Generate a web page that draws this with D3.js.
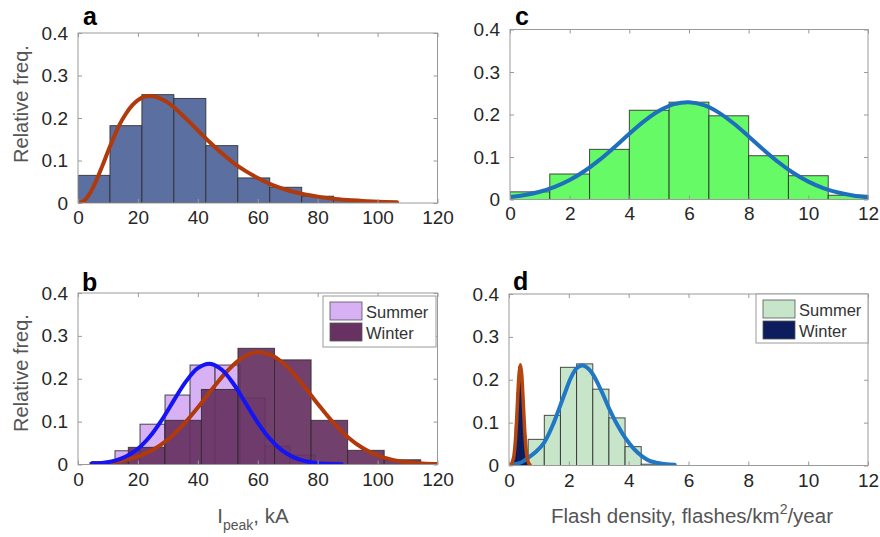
<!DOCTYPE html>
<html>
<head>
<meta charset="utf-8">
<script src="https://cdn.jsdelivr.net/npm/d3@7/dist/d3.min.js"></script>
<style>
  html, body { margin: 0; padding: 0; background: #fff; }
  svg { display: block; font-family: "Liberation Sans", Arial, Helvetica, sans-serif; }
</style>
</head>
<body>
<svg id="fig" width="880" height="537"></svg>
<script>
// Axis ticks
const freqTicks = [0, 0.1, 0.2, 0.3, 0.4];
const ipeakTicks = [0, 20, 40, 60, 80, 100, 120];
const densityTicks = [0, 2, 4, 6, 8, 10, 12];

// (a) Peak current, all flashes
const aEdges = [0, 10.67, 21.33, 32, 42.67, 53.33, 64, 74.67, 85.33, 96, 106.67];
const aFreq = [0.065, 0.182, 0.255, 0.246, 0.135, 0.059, 0.037, 0.016, 0.007, 0.003];
const aFitX = [0, 2, 4, 6, 8, 10, 12, 14, 16, 18, 20, 22, 24, 26, 28, 30, 33, 36, 40, 44, 48, 52, 56, 60, 65, 70, 75, 80, 85, 90, 95, 100, 106.5];
const aFitY = [0, 0.005, 0.023, 0.051, 0.085, 0.121, 0.155, 0.186, 0.210, 0.229, 0.242, 0.250, 0.252, 0.250, 0.244, 0.236, 0.219, 0.199, 0.171, 0.143, 0.117, 0.094, 0.075, 0.059, 0.042, 0.030, 0.021, 0.015, 0.010, 0.007, 0.005, 0.003, 0.002];

// (b) Peak current, summer vs winter
const bSummerEdges = [4, 12.35, 20.7, 29.05, 37.4, 45.75, 54.1, 62.45, 70.8, 79.15, 87.5];
const bSummerFreq = [0.005, 0.032, 0.094, 0.162, 0.232, 0.232, 0.155, 0.043, 0.022, 0.006];
const bWinterEdges = [4.6, 16.8, 29, 41.2, 53.4, 65.6, 77.8, 90, 102.2, 114.4, 126.6];
const bWinterFreq = [0.007, 0.040, 0.103, 0.175, 0.271, 0.244, 0.103, 0.033, 0.011, 0.003];
const bSummerFitX = [4.6, 8, 12, 16, 20, 24, 28, 32, 36, 40, 44, 48, 52, 56, 60, 64, 68, 72, 76, 80, 84, 88];
const bSummerFitY = [0.0015, 0.0035, 0.0085, 0.0186, 0.0367, 0.0652, 0.1041, 0.1495, 0.1932, 0.2246, 0.235, 0.2211, 0.1872, 0.1425, 0.0977, 0.0602, 0.0334, 0.0167, 0.0075, 0.0030, 0.0011, 0.0004];
const bWinterFitX = [4.6, 10, 15, 20, 25, 30, 35, 40, 45, 50, 55, 60, 65, 70, 75, 80, 85, 90, 95, 100, 105, 110, 115, 120];
const bWinterFitY = [0.0017, 0.0043, 0.0093, 0.0186, 0.0343, 0.0584, 0.0917, 0.1329, 0.1778, 0.2193, 0.2495, 0.262, 0.2536, 0.2265, 0.1866, 0.1418, 0.0994, 0.0643, 0.0384, 0.0211, 0.0107, 0.0050, 0.0022, 0.0009];

// (c) Flash density, all seasons
const cEdges = [0, 1.333, 2.667, 4, 5.333, 6.667, 8, 9.333, 10.667, 12];
const cFreq = [0.018, 0.060, 0.118, 0.210, 0.229, 0.197, 0.103, 0.056, 0.010];
const cFitX = [0, 0.5, 1, 1.5, 2, 2.5, 3, 3.5, 4, 4.5, 5, 5.5, 6, 6.5, 7, 7.5, 8, 8.5, 9, 9.5, 10, 10.5, 11, 11.5, 12];
const cFitY = [0.0059, 0.0107, 0.0182, 0.0296, 0.0457, 0.0670, 0.0932, 0.1232, 0.1546, 0.1843, 0.2086, 0.2243, 0.229, 0.2219, 0.2044, 0.1787, 0.1484, 0.1170, 0.0876, 0.0623, 0.0421, 0.0270, 0.0164, 0.0095, 0.0052];

// (d) Flash density, summer vs winter
const dSummerEdges = [0.10, 0.64, 1.18, 1.72, 2.26, 2.80, 3.34, 3.88, 4.42, 4.96, 5.50];
const dSummerFreq = [0.012, 0.061, 0.117, 0.229, 0.237, 0.178, 0.111, 0.044, 0.003, 0.001];
const dWinterEdges = [0.15, 0.209, 0.268, 0.327, 0.386, 0.445, 0.504, 0.563, 0.622, 0.681];
const dWinterFreq = [0.03, 0.09, 0.17, 0.23, 0.22, 0.15, 0.07, 0.025, 0.006];
const dSummerFitX = [0.11, 0.4, 0.64, 0.9, 1.17, 1.45, 1.71, 1.9, 2.07, 2.25, 2.43, 2.6, 2.8, 3.08, 3.36, 3.62, 3.88, 4.16, 4.44, 4.7, 4.98, 5.25, 5.54];
const dSummerFitY = [0.002, 0.007, 0.018, 0.032, 0.053, 0.092, 0.139, 0.175, 0.205, 0.226, 0.233, 0.229, 0.213, 0.175, 0.131, 0.095, 0.065, 0.040, 0.022, 0.011, 0.006, 0.003, 0.002];
const dWinterFitX = [0.08, 0.15, 0.2, 0.25, 0.3, 0.34, 0.38, 0.42, 0.46, 0.51, 0.56, 0.61, 0.66, 0.70];
const dWinterFitY = [0.002, 0.017, 0.046, 0.100, 0.171, 0.216, 0.235, 0.216, 0.171, 0.101, 0.046, 0.017, 0.005, 0.002];

const legendLabels = ["Summer", "Winter"];

const svg = d3.select("#fig");
svg.append("rect").attr("width", 880).attr("height", 537).attr("fill", "#fff");

const BOX = "#9a9a9a";

function zipBins(edges, freq) {
  return freq.map((f, i) => ({ x0: edges[i], x1: edges[i + 1], f }));
}
function zipPts(xs, ys) { return xs.map((x, i) => [x, ys[i]]); }

function panel(opt) {
  const g = svg.append("g");
  const x = d3.scaleLinear().domain(opt.xDomain).range([opt.left, opt.right]);
  const y = d3.scaleLinear().domain([0, 0.4]).range([opt.bottom, opt.top]);

  const clipId = "clip-" + opt.letter;
  svg.append("clipPath").attr("id", clipId)
    .append("rect").attr("x", opt.left).attr("y", opt.top)
    .attr("width", opt.right - opt.left).attr("height", opt.bottom - opt.top);

  const plot = g.append("g").attr("clip-path", `url(#${clipId})`);

  opt.layers.forEach(layer => {
    if (layer.type === "bars") {
      plot.append("g").selectAll("rect").data(layer.bins).join("rect")
        .attr("x", d => x(d.x0))
        .attr("y", d => y(d.f))
        .attr("width", d => x(d.x1) - x(d.x0))
        .attr("height", d => y(0) - y(d.f))
        .attr("fill", layer.fill)
        .attr("fill-opacity", layer.opacity == null ? 1 : layer.opacity)
        .attr("stroke", layer.stroke || "#2b2b2b")
        .attr("stroke-opacity", 0.85)
        .attr("stroke-width", 1);
    } else {
      plot.append("path").datum(layer.pts)
        .attr("fill", "none")
        .attr("stroke", layer.color)
        .attr("stroke-width", layer.width || 4)
        .attr("stroke-linejoin", "round")
        .attr("stroke-linecap", "round")
        .attr("d", d3.line().x(d => x(d[0])).y(d => y(d[1])).curve(d3.curveCatmullRom));
    }
  });

  // frame
  g.append("rect")
    .attr("x", opt.left).attr("y", opt.top)
    .attr("width", opt.right - opt.left).attr("height", opt.bottom - opt.top)
    .attr("fill", "none").attr("stroke", BOX).attr("stroke-width", 1);

  // inward ticks on all four sides
  const tl = 4;
  const axB = d3.axisBottom(x).tickValues(opt.xTicks).tickSize(tl).tickFormat(d3.format("d"));
  const xt = g.append("g").attr("transform", `translate(0,${opt.bottom})`).call(axB);
  xt.select(".domain").remove();
  xt.selectAll(".tick line").attr("y2", -tl).attr("stroke", BOX);
  xt.selectAll(".tick text").attr("y", opt.xLabelDy).attr("dy", 0)
    .attr("font-size", 19).attr("fill", "#262626").attr("font-family", null);
  xt.attr("font-family", null);

  const topTicks = g.append("g").attr("transform", `translate(0,${opt.top})`)
    .call(d3.axisTop(x).tickValues(opt.xTicks).tickSize(tl).tickFormat(""));
  topTicks.select(".domain").remove();
  topTicks.selectAll(".tick line").attr("y2", tl).attr("stroke", BOX);

  const axL = d3.axisLeft(y).tickValues(freqTicks).tickSize(tl).tickPadding(6)
    .tickFormat(d => d === 0 ? "0" : d3.format(".1f")(d));
  const yt = g.append("g").attr("transform", `translate(${opt.left},0)`).call(axL);
  yt.select(".domain").remove();
  yt.selectAll(".tick line").attr("x2", tl).attr("stroke", BOX);
  yt.selectAll(".tick text").attr("font-size", 19).attr("fill", "#262626").attr("font-family", null);
  yt.attr("font-family", null);

  const rightTicks = g.append("g").attr("transform", `translate(${opt.right},0)`)
    .call(d3.axisRight(y).tickValues(freqTicks).tickSize(tl).tickFormat(""));
  rightTicks.select(".domain").remove();
  rightTicks.selectAll(".tick line").attr("x2", -tl).attr("stroke", BOX);

  // panel letter
  g.append("text").attr("x", opt.letterX).attr("y", opt.letterY)
    .attr("font-size", 25).attr("font-weight", "bold").attr("fill", "#000")
    .text(opt.letter);

  // legend
  if (opt.legend) {
    const L = opt.legend;
    g.append("rect").attr("x", L.x).attr("y", L.y).attr("width", L.w).attr("height", L.h)
      .attr("fill", "#fff").attr("stroke", BOX).attr("stroke-width", 1);
    legendLabels.forEach((lab, i) => {
      g.append("rect")
        .attr("x", L.x + 7).attr("y", L.y + 6 + i * 21)
        .attr("width", 32).attr("height", 18)
        .attr("fill", L.colors[i]).attr("stroke", "#555").attr("stroke-width", 0.8);
      g.append("text")
        .attr("x", L.x + 43).attr("y", L.y + 22 + i * 21)
        .attr("font-size", 16.5).attr("fill", "#333").text(lab);
    });
  }
  return g;
}

// (a)
panel({
  letter: "a", letterX: 83, letterY: 25,
  left: 78, right: 437.5, top: 33, bottom: 203, xLabelDy: 20.5,
  xDomain: [0, 120], xTicks: ipeakTicks,
  layers: [
    { type: "bars", bins: zipBins(aEdges, aFreq), fill: "#5b6fa0" },
    { type: "line", pts: zipPts(aFitX, aFitY), color: "#b03a0c" }
  ]
});

// (b)
panel({
  letter: "b", letterX: 82, letterY: 291,
  left: 78, right: 437.5, top: 293, bottom: 464.5, xLabelDy: 21,
  xDomain: [0, 120], xTicks: ipeakTicks,
  layers: [
    { type: "bars", bins: zipBins(bSummerEdges, bSummerFreq), fill: "#d7b1f3" },
    { type: "bars", bins: zipBins(bWinterEdges, bWinterFreq), fill: "#673262", opacity: 0.93 },
    { type: "line", pts: zipPts(bWinterFitX, bWinterFitY), color: "#b03a0c" },
    { type: "line", pts: zipPts(bSummerFitX, bSummerFitY), color: "#1414f5" }
  ],
  legend: { x: 323, y: 296, w: 113, h: 51, colors: ["#d7b1f3", "#673262"] }
});

// (c)
panel({
  letter: "c", letterX: 515, letterY: 25,
  left: 510, right: 868, top: 29.5, bottom: 199.5, xLabelDy: 20.5,
  xDomain: [0, 12], xTicks: densityTicks,
  layers: [
    { type: "bars", bins: zipBins(cEdges, cFreq), fill: "#66fa66" },
    { type: "line", pts: zipPts(cFitX, cFitY), color: "#1e6fbe" }
  ]
});

// (d)
panel({
  letter: "d", letterX: 513, letterY: 290,
  left: 509, right: 868, top: 294, bottom: 465.5, xLabelDy: 21,
  xDomain: [0, 12], xTicks: densityTicks,
  layers: [
    { type: "bars", bins: zipBins(dSummerEdges, dSummerFreq), fill: "#c7e5c9" },
    { type: "bars", bins: zipBins(dWinterEdges, dWinterFreq), fill: "#0c1c5c", stroke: "#0c1c5c" },
    { type: "line", pts: zipPts(dSummerFitX, dSummerFitY), color: "#1f77c6" },
    { type: "line", pts: zipPts(dWinterFitX, dWinterFitY), color: "#b5460e", width: 3.5 }
  ],
  legend: { x: 756, y: 294, w: 112, h: 49, colors: ["#c7e5c9", "#0c1c5c"] }
});

// axis titles
const titleFill = "#555";
[104, 373].forEach(cy => {
  svg.append("text")
    .attr("transform", `translate(28,${cy}) rotate(-90)`)
    .attr("text-anchor", "middle").attr("font-size", 20).attr("fill", titleFill)
    .text("Relative freq.");
});

const xt1 = svg.append("text").attr("x", 253).attr("y", 523)
  .attr("text-anchor", "middle").attr("font-size", 20.5).attr("fill", titleFill);
xt1.append("tspan").text("I");
xt1.append("tspan").attr("font-size", 14).attr("dy", 7).text("peak");
xt1.append("tspan").attr("dy", -7).text(", kA");

const xt2 = svg.append("text").attr("x", 692).attr("y", 523)
  .attr("text-anchor", "middle").attr("font-size", 20.5).attr("fill", titleFill);
xt2.append("tspan").text("Flash density, flashes/km");
xt2.append("tspan").attr("font-size", 14).attr("dy", -9).text("2");
xt2.append("tspan").attr("dy", 9).text("/year");
</script>
</body>
</html>
